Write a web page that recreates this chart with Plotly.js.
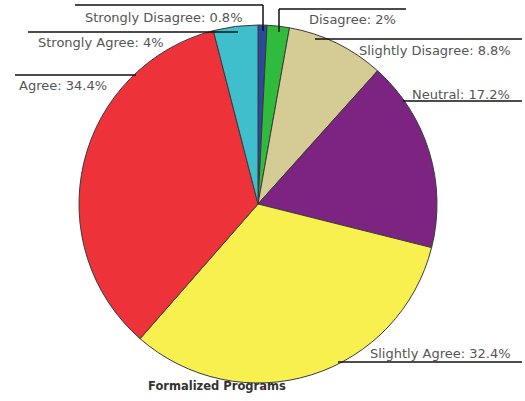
<!DOCTYPE html>
<html><head><meta charset="utf-8">
<script src="https://cdn.plot.ly/plotly-3.0.1.min.js"></script>
<style>html,body{margin:0;padding:0;background:#fff}</style>
</head><body><div id="chart" style="width:525px;height:401px"></div>
<script>
const labels = ["Strongly Disagree", "Disagree", "Slightly Disagree", "Neutral", "Slightly Agree", "Agree", "Strongly Agree"];
const values = [0.8, 2, 8.8, 17.2, 32.4, 34.4, 4];
const colors = ["#2b4a9e", "#2fbb3c", "#d5cc95", "#7d2482", "#f7f04f", "#ee3239", "#3ebfcb"];
const chartTitle = "Formalized Programs";

const W = 525, H = 401;
const px = x => x / W, py = y => 1 - y / H;

// label placement (pixels): text centre, and leader line polyline
const labelLayout = [
  {tx: 164, ty: 17, pts: [[75, 5], [263, 5], [263, 31]]},
  {tx: 352, ty: 19, pts: [[406, 9], [279, 9], [279, 32]]},
  {tx: 435, ty: 50, pts: [[315, 39], [522, 39]]},
  {tx: 461, ty: 94, pts: [[403, 101], [522, 101]]},
  {tx: 440, ty: 353, pts: [[338, 362], [522, 362]]},
  {tx: 63, ty: 86, pts: [[15, 75], [136, 75]]},
  {tx: 101, ty: 42, pts: [[28, 32], [238, 32]]}
];

const annotations = labels.map((l, i) => ({
  text: l + ": " + values[i] + "%",
  x: px(labelLayout[i].tx), y: py(labelLayout[i].ty),
  xref: "paper", yref: "paper", showarrow: false,
  xanchor: "center", yanchor: "middle",
  font: {family: "DejaVu Sans", size: 13, color: "#555"}
}));
annotations.push({
  text: "<b>" + chartTitle + "</b>", x: px(217), y: py(386),
  xref: "paper", yref: "paper", showarrow: false, xanchor: "center", yanchor: "middle",
  font: {family: "DejaVu Sans", size: 11.5, color: "#333"}
});

const shapes = [];
labelLayout.forEach(L => {
  for (let k = 0; k < L.pts.length - 1; k++) {
    shapes.push({type: "line", xref: "paper", yref: "paper",
      x0: px(L.pts[k][0]), y0: py(L.pts[k][1]), x1: px(L.pts[k+1][0]), y1: py(L.pts[k+1][1]),
      line: {color: "#111", width: 1.5}});
  }
});

const cx = 258, cy = 204, r = 179;
Plotly.newPlot("chart", [{
  type: "pie", labels: labels, values: values, sort: false, direction: "clockwise", rotation: 0,
  marker: {colors: colors, line: {color: "#3a3a3a", width: 1}},
  textinfo: "none", hoverinfo: "label+percent",
  domain: {x: [px(cx - r), px(cx + r)], y: [py(cy + r), py(cy - r)]}
}], {
  width: W, height: H, margin: {l: 0, r: 0, t: 0, b: 0},
  showlegend: false, paper_bgcolor: "#fff",
  annotations: annotations, shapes: shapes
}, {displayModeBar: false});
</script></body></html>
